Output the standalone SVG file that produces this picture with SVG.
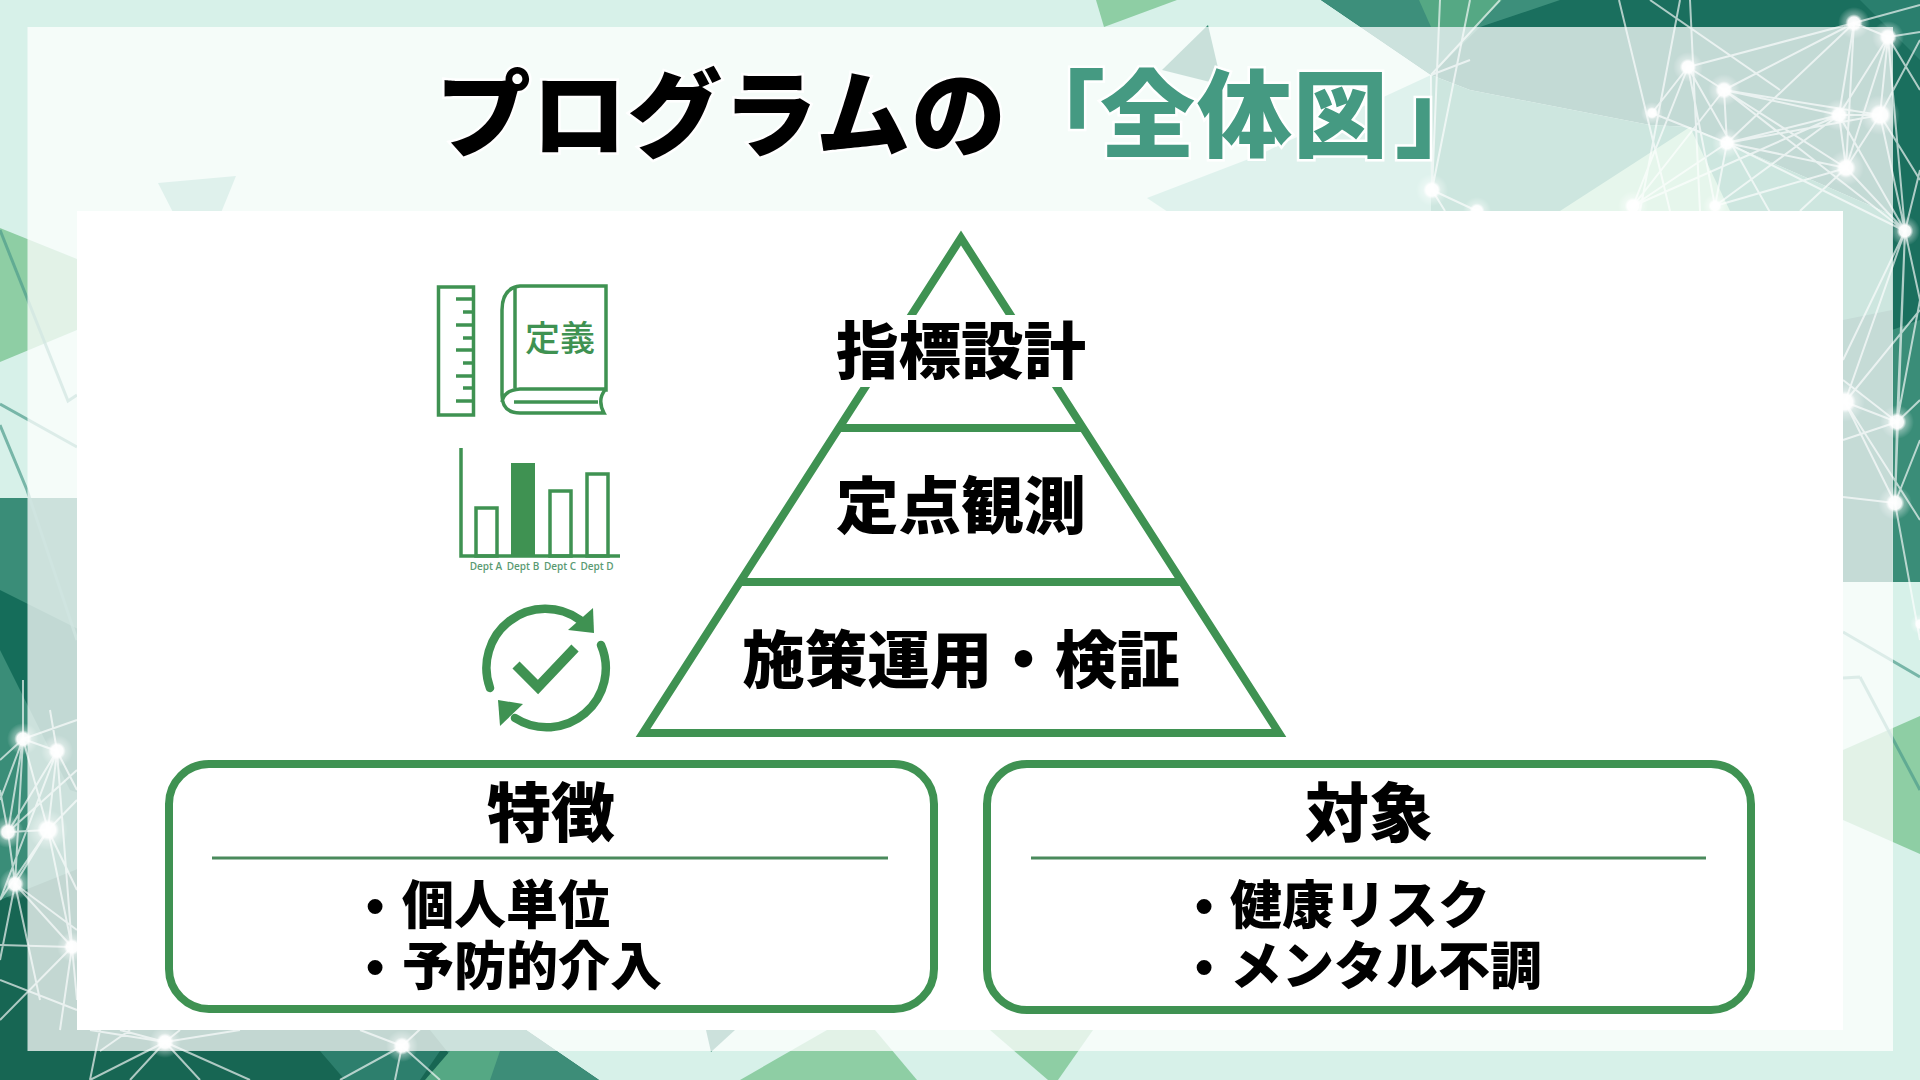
<svg xmlns="http://www.w3.org/2000/svg" width="1920" height="1080" viewBox="0 0 1920 1080">
<style>
text{font-family:"Noto Sans CJK JP","Noto Sans",sans-serif;font-weight:700;fill:#000}
.mid{text-anchor:middle}
.h1{font-size:95px;font-weight:900;stroke:#fff;stroke-width:5px;paint-order:stroke;stroke-linejoin:miter}
.lv{font-size:62.500px;font-weight:900}
.hd{font-size:64px;font-weight:900}
.bl{font-size:52px;font-weight:900}
.g{fill:none;stroke:#3f9252;stroke-width:8}
.ic{fill:none;stroke:#3f9252;stroke-width:3.500}
.dp{font-family:"Open Sans",sans-serif;font-size:10px;font-weight:600;fill:#5a9a72;text-anchor:middle}
.net{fill:none;stroke:#fff;stroke-width:2;stroke-opacity:.65}
.faint{fill:none;stroke:#4f9c8c;stroke-width:3;stroke-opacity:.7}
.n{fill:url(#glow)}
</style>
<defs>
<radialGradient id="glow"><stop offset="0" stop-color="#fff"/><stop offset=".38" stop-color="#fff" stop-opacity=".95"/><stop offset=".55" stop-color="#fff" stop-opacity=".35"/><stop offset="1" stop-color="#fff" stop-opacity="0"/></radialGradient>
</defs>
<g id="background">
<rect width="1920" height="1080" fill="#d7f1e9"/>
<polygon points="158,183 236,176 214,230 182,230" fill="#84c9b6"/>
<polygon points="1096,0 1104,27 1177,0" fill="#8ecea4"/>
<polygon points="1147,198 1254,157 1431,75 1440,240 1210,240" fill="#84ceba"/>
<polygon points="1208,25 1162,70 1222,85" fill="#2f8870"/>
<polygon points="1321,0 1431,75 1470,90 1650,125 1690,127 1892,215 1892,310 1843,320 1843,582 1920,582 1920,0" fill="#1a6f5e"/>
<polygon points="1321,0 1560,0 1480,27 1431,75" fill="#3d8f7b"/>
<polygon points="1419,0 1502,0 1475,27 1431,27" fill="#55a884"/>
<polygon points="1431,75 1470,90 1650,125 1690,127 1892,215 1892,320 1431,320" fill="#3f9f84"/>
<polygon points="1690,127 1560,211 1730,211" fill="#9fdcb6"/>
<polygon points="1770,0 1860,0 1920,60 1920,0" fill="#2a7f6e"/>
<polygon points="1892,330 1920,320 1920,582 1892,582" fill="#3a8d78"/>
<polygon points="1843,582 1843,320 1892,310 1892,582" fill="#1f7363"/>
<polygon points="1843,750 1920,716 1920,854 1843,820" fill="#8ecea4"/>
<polygon points="0,228 77,259 77,330 0,362" fill="#8ecea4"/>
<polygon points="0,498 100,498 100,1080 0,1080" fill="#3a8d78"/>
<polygon points="0,590 100,640 100,800 70,790 0,650" fill="#156d5a"/>
<polygon points="0,1080 0,900 100,860 400,1030 526,1030 599,1080" fill="#176653"/>
<polygon points="430,1030 526,1030 599,1080 470,1080" fill="#3d8d78"/>
<polygon points="450,1051 500,1051 490,1080 425,1080" fill="#55a884"/>
<polygon points="320,1051 440,1051 420,1080 345,1080" fill="#2d7f6d"/>
<polygon points="740,1080 827,1030 875,1030 917,1080" fill="#8ecea4"/>
<polygon points="990,1030 1093,1030 1058,1080 1048,1080" fill="#8ecea4"/>
<polygon points="706,1030 735,1030 711,1052" fill="#3d8d78"/>
<path class="faint" d="M0,230L68,401L77,395M0,404L77,447M0,425L27,490M27,490L77,640M1843,632L1920,677M1860,677L1920,790M1843,678L1860,677"/>
<path class="net" d="M1854,23L1888,37M1854,23L1839,115M1854,23L1724,90M1854,23L1846,168M1854,23L1727,143M1854,23L1688,67M1854,23L1920,5M1888,37L1880,115M1888,37L1839,115M1888,37L1846,168M1888,37L1920,32M1888,37L1920,90M1888,37L1905,231M1688,67L1715,206M1688,67L1633,206M1688,67L1724,90M1688,67L1780,230M1724,90L1727,143M1724,90L1839,115M1724,90L1846,168M1724,90L1633,206M1724,90L1905,231M1724,90L1880,115M1652,113L1688,67M1652,113L1727,143M1727,143L1839,115M1727,143L1846,168M1727,143L1880,115M1727,143L1905,231M1727,143L1715,206M1727,143L1633,206M1839,115L1846,168M1839,115L1880,115M1839,115L1905,231M1839,115L1715,206M1839,115L1633,206M1846,168L1905,231M1846,168L1880,115M1846,168L1715,206M1846,168L1800,211M1880,115L1905,231M1880,115L1920,40M1880,115L1920,180M1905,231L1920,170M1905,231L1920,300M1905,231L1845,402M1905,231L1897,422M1905,231L1895,503M1845,402L1920,310M1845,402L1897,422M1845,402L1895,503M1845,402L1920,520M1897,422L1920,300M1897,422L1895,503M1897,422L1920,400M1895,503L1920,440M1895,503L1920,640M1895,503L1843,497M1843,360L1905,231M1843,380L1897,422M1843,440L1897,422M1432,190L1477,211M1432,190L1470,0M1432,190L1440,0M1432,190L1431,75M1432,190L1445,211M1431,75L1500,0M1431,75L1470,60M1650,0L1780,90M1680,0L1640,211M1690,0L1700,211M1619,0L1670,211"/>
<path class="net" d="M23,739L57,751M23,739L8,832M23,739L48,830M23,739L15,884M23,739L0,760M23,739L77,720M23,739L0,800M23,680L23,739M57,751L8,832M57,751L48,830M57,751L77,790M57,751L72,947M57,751L0,900M57,751L50,710M8,832L48,830M8,832L15,884M8,832L0,790M8,832L77,770M48,830L15,884M48,830L77,890M48,830L72,947M48,830L0,900M48,830L77,800M15,884L72,947M15,884L0,960M15,884L40,1000M15,884L77,930M72,947L0,945M72,947L77,1000M72,947L60,1030M72,947L0,1020M0,980L77,1010M165,1042L90,1030M165,1042L120,1030M165,1042L180,1030M165,1042L200,1080M165,1042L250,1080M165,1042L90,1080M165,1042L130,1080M165,1042L240,1030M402,1046L340,1080M402,1046L440,1080M402,1046L395,1080M402,1046L360,1030M402,1046L430,1020M90,1080L100,1030M100,1051L130,1030"/>
<circle class="n" cx="1854" cy="23" r="16"/><circle class="n" cx="1888" cy="37" r="16"/><circle class="n" cx="1688" cy="67" r="15"/><circle class="n" cx="1724" cy="90" r="16"/><circle class="n" cx="1652" cy="113" r="11"/><circle class="n" cx="1839" cy="115" r="16"/><circle class="n" cx="1880" cy="115" r="20"/><circle class="n" cx="1727" cy="143" r="15"/><circle class="n" cx="1846" cy="168" r="18"/><circle class="n" cx="1905" cy="231" r="15"/><circle class="n" cx="1633" cy="206" r="15"/><circle class="n" cx="1715" cy="206" r="12"/><circle class="n" cx="1432" cy="190" r="16"/><circle class="n" cx="1477" cy="211" r="14"/><circle class="n" cx="1845" cy="402" r="20"/><circle class="n" cx="1897" cy="422" r="17"/><circle class="n" cx="1895" cy="503" r="17"/><circle class="n" cx="1920" cy="624" r="10"/>
<circle class="n" cx="23" cy="739" r="16"/><circle class="n" cx="57" cy="751" r="16"/><circle class="n" cx="8" cy="832" r="16"/><circle class="n" cx="48" cy="830" r="20"/><circle class="n" cx="15" cy="884" r="16"/><circle class="n" cx="72" cy="947" r="15"/><circle class="n" cx="165" cy="1042" r="16"/><circle class="n" cx="402" cy="1046" r="16"/>
<rect x="27.500" y="27" width="1865.500" height="1024" fill="#fff" fill-opacity=".74"/>
<rect x="77" y="211" width="1766" height="819" fill="#fff"/>
</g>
<g id="title">
<text class="h1" x="436" y="150" textLength="570" lengthAdjust="spacing">プログラムの</text>
<text class="h1" x="1010 1100 1197 1293 1395" y="150" style="fill:#459a82">「全体図」</text>
</g>
<g id="connectors">
<path class="g" stroke-linejoin="miter" d="M961,238L643,733H1279Z"/>
<path class="g" d="M838,428H1084M741,582H1181"/>
<path d="M212,858H888M1031,858H1706" fill="none" stroke="#4a8a5c" stroke-width="3"/>
</g>
<g id="level-1">
<rect x="830" y="315" width="262" height="72" fill="#fff"/>
<text class="lv mid" x="961" y="374">指標設計</text>
</g>
<g id="level-2"><text class="lv mid" x="961" y="529">定点観測</text></g>
<g id="level-3"><text class="lv mid" x="961" y="683">施策運用・検証</text></g>
<g id="icon-ruler-book">
<rect class="ic" x="438.500" y="287" width="35" height="128"/>
<path class="ic" d="M456,299H472M463,312H472M456,325H472M463,338H472M456,350H472M463,363H472M456,376H472M463,388H472M456,401H472"/>
<path class="ic" d="M606,286H520Q502,288 502,310V395Q502,413 520,413H604Q597,400 605,390H606V286ZM515,287V388M605,389H520Q504,390 502,402M514,402H598"/>
<text x="560" y="351" class="mid" style="font-size:35px;font-weight:500;fill:#3f9252">定義</text>
</g>
<g id="icon-chart">
<path class="ic" stroke-width="3" d="M461,448V556H620"/>
<rect class="ic" x="476" y="508" width="21" height="48"/>
<rect x="511" y="463" width="24" height="93" fill="#3f9252"/>
<rect class="ic" x="550" y="491" width="21" height="65"/>
<rect class="ic" x="587" y="474" width="21" height="82"/>
<text class="dp" x="486" y="570">Dept A</text><text class="dp" x="523" y="570">Dept B</text><text class="dp" x="560" y="570">Dept C</text><text class="dp" x="597" y="570">Dept D</text>
</g>
<g id="icon-cycle" fill="#3f9252">
<path fill="none" stroke="#3f9252" stroke-width="8.500" stroke-linecap="round" d="M490,688A59,59 0 0 1 580,620M601,645A59,59 0 0 1 515,718"/>
<polygon points="593,608 594,633 568,630"/>
<polygon points="498,700 500,726 523,704"/>
<path fill="none" stroke="#3f9252" stroke-width="10" d="M516,665L538,687L575,648"/>
</g>
<g id="box-features">
<rect class="g" x="169" y="764" width="765" height="245" rx="40"/>
<text class="hd mid" x="551" y="836">特徴</text>
<text class="bl" y="924"><tspan x="366" style="font-family:'Liberation Sans',sans-serif">•</tspan><tspan x="402">個人単位</tspan></text>
<text class="bl" y="985"><tspan x="366" style="font-family:'Liberation Sans',sans-serif">•</tspan><tspan x="402">予防的介入</tspan></text>
</g>
<g id="box-target">
<rect class="g" x="987" y="764" width="764" height="246" rx="40"/>
<text class="hd mid" x="1369" y="836">対象</text>
<text class="bl" y="924"><tspan x="1195" style="font-family:'Liberation Sans',sans-serif">•</tspan><tspan x="1230">健康リスク</tspan></text>
<text class="bl" y="985"><tspan x="1195" style="font-family:'Liberation Sans',sans-serif">•</tspan><tspan x="1230">メンタル不調</tspan></text>
</g>
</svg>
